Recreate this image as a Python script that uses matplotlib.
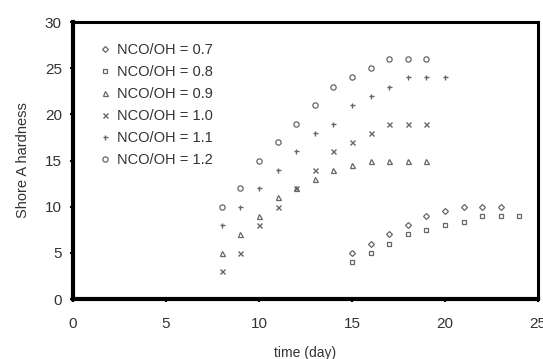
import matplotlib
matplotlib.use("Agg")
import matplotlib.pyplot as plt

plt.rcParams['font.family'] = ['Liberation Sans', 'DejaVu Sans']

# NCO/OH = 0.7 (diamonds)
days_07 = [15, 16, 17, 18, 19, 20, 21, 22, 23]
hard_07 = [5, 6, 7, 8, 9, 9.5, 10, 10, 10]
# NCO/OH = 0.8 (squares)
days_08 = [15, 16, 17, 18, 19, 20, 21, 22, 23, 24]
hard_08 = [4, 5, 6, 7, 7.5, 8, 8.3, 9, 9, 9]
# NCO/OH = 0.9 (triangles)
days_09 = [8, 9, 10, 11, 12, 13, 14, 15, 16, 17, 18, 19]
hard_09 = [5, 7, 9, 11, 12, 13, 14, 14.5, 15, 15, 15, 15]
# NCO/OH = 1.0 (x)
days_10 = [8, 9, 10, 11, 12, 13, 14, 15, 16, 17, 18, 19]
hard_10 = [3, 5, 8, 10, 12, 14, 16, 17, 18, 19, 19, 19]
# NCO/OH = 1.1 (+)
days_11 = [8, 9, 10, 11, 12, 13, 14, 15, 16, 17, 18, 19, 20]
hard_11 = [8, 10, 12, 14, 16, 18, 19, 21, 22, 23, 24, 24, 24]
# NCO/OH = 1.2 (circles)
days_12 = [8, 9, 10, 11, 12, 13, 14, 15, 16, 17, 18, 19]
hard_12 = [10, 12, 15, 17, 19, 21, 23, 24, 25, 26, 26, 26]

labels = ["NCO/OH = 0.7", "NCO/OH = 0.8", "NCO/OH = 0.9",
          "NCO/OH = 1.0", "NCO/OH = 1.1", "NCO/OH = 1.2"]
x_ticks = [0, 5, 10, 15, 20, 25]
y_ticks = [0, 5, 10, 15, 20, 25, 30]

fig = plt.figure(figsize=(5.43, 3.59), dpi=100)
ax = fig.add_axes([0.1344, 0.167, 0.8564, 0.7717])

mc = '#666666'
series = [
    (days_07, hard_07, 'D', 3.0),
    (days_08, hard_08, 's', 3.2),
    (days_09, hard_09, '^', 3.6),
    (days_10, hard_10, 'x', 3.6),
    (days_11, hard_11, '+', 3.6),
    (days_12, hard_12, 'o', 3.8),
]
for (d, h, m, ms), lab in zip(series, labels):
    if m in ('x', '+'):
        ax.plot(d, h, linestyle='none', marker=m, markersize=ms,
                color=mc, markeredgewidth=1.0, label=lab)
    else:
        ax.plot(d, h, linestyle='none', marker=m, markersize=ms,
                markerfacecolor='white', markeredgecolor=mc,
                markeredgewidth=0.9, label=lab)

ax.set_xlim(0, 25)
ax.set_ylim(0, 30)
ax.set_xticks(x_ticks)
ax.set_yticks(y_ticks)
ax.tick_params(direction='out', length=2, width=1.5, labelsize=11,
               labelcolor='#333333', color='black')
ax.tick_params(axis='x', pad=11)
ax.tick_params(axis='y', pad=6)

for s in ['left', 'bottom']:
    ax.spines[s].set_linewidth(3.0)
for s in ['top', 'right']:
    ax.spines[s].set_linewidth(2.2)

ax.set_xlabel('time (day)', fontsize=10, color='#333333', labelpad=11)
ax.set_ylabel('Shore A hardness', fontsize=10.5, color='#333333', labelpad=11)

leg = ax.legend(loc='upper left', bbox_to_anchor=(0.045, 0.945), frameon=False,
                fontsize=10.5, handlelength=0.7, handletextpad=0.5,
                labelspacing=0.55, borderaxespad=0)
for t in leg.get_texts():
    t.set_color('#333333')

fig.savefig('out.png', dpi=100)
